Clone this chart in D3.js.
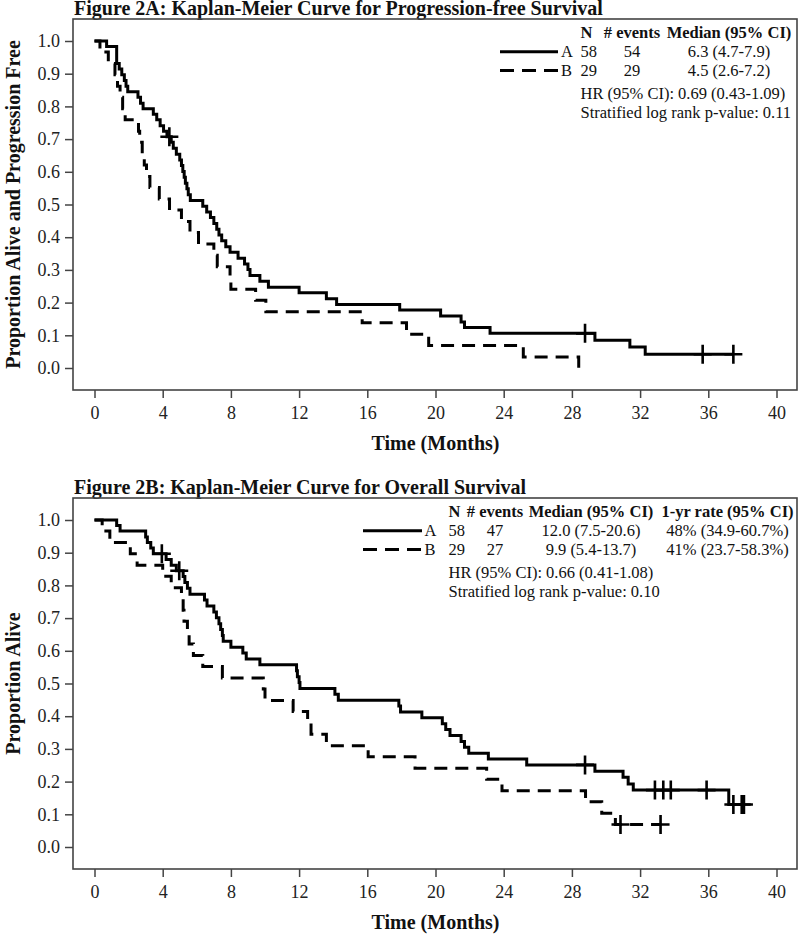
<!DOCTYPE html>
<html><head><meta charset="utf-8">
<script src="https://cdn.jsdelivr.net/npm/d3@7"></script>
<style>body{margin:0;background:#fff}svg{display:block}</style>
</head><body>
<svg id="c" width="800" height="935"></svg>
<script>
// ---------- data ----------
const xTicks = [0,4,8,12,16,20,24,28,32,36,40];
const yTicks = [0,0.1,0.2,0.3,0.4,0.5,0.6,0.7,0.8,0.9,1.0];

// Figure 2A: progression-free survival
const pfsA_time = [0,0.71,1.30,1.45,1.60,1.75,1.85,1.95,2.55,2.70,2.85,3.45,3.65,3.85,4.05,4.25,4.50,4.62,4.80,5.00,5.10,5.18,5.26,5.33,5.42,5.50,5.62,6.35,6.58,6.80,7.00,7.17,7.30,7.46,7.70,7.95,8.42,8.80,9.00,9.12,9.70,10.20,12.00,13.60,14.20,17.90,20.30,21.50,21.70,23.20,29.35,31.40,32.30,37.47];
const pfsA_surv = [1,0.983,0.931,0.914,0.897,0.879,0.862,0.845,0.828,0.810,0.793,0.776,0.759,0.741,0.724,0.707,0.690,0.672,0.654,0.636,0.619,0.601,0.583,0.565,0.548,0.530,0.512,0.495,0.477,0.460,0.442,0.424,0.407,0.389,0.371,0.354,0.336,0.318,0.301,0.283,0.265,0.247,0.230,0.212,0.194,0.177,0.159,0.141,0.124,0.106,0.085,0.064,0.042,0.042];
const pfsA_censorTime = [4.39,28.77,35.67,37.47];
const pfsA_censorSurv = [0.707,0.106,0.042,0.042];

const pfsB_time = [0,0.32,0.81,1.20,1.35,1.50,1.65,1.80,2.58,2.65,2.80,2.92,3.05,3.25,3.80,4.40,5.10,5.60,6.10,7.00,7.20,7.95,8.00,9.45,10.05,15.70,18.30,19.60,25.15,28.40];
const pfsB_surv = [1,0.966,0.931,0.897,0.862,0.828,0.793,0.759,0.724,0.690,0.655,0.621,0.586,0.552,0.517,0.483,0.448,0.414,0.379,0.345,0.310,0.276,0.241,0.207,0.172,0.138,0.103,0.069,0.034,0];
const pfsB_censorTime = [];
const pfsB_censorSurv = [];

// Figure 2B: overall survival
const osA_time = [0,1.30,1.50,3.00,3.10,3.30,3.45,4.20,4.50,4.80,5.20,5.30,5.45,5.60,6.45,6.60,7.00,7.15,7.30,7.40,7.50,7.55,8.00,8.70,8.90,9.70,11.85,11.90,12.00,12.05,14.10,14.30,17.85,17.95,19.20,20.40,20.60,20.85,21.50,21.70,21.95,23.10,25.35,29.35,31.00,31.30,31.60,37.20,38.09];
const osA_surv = [1,0.983,0.966,0.948,0.931,0.914,0.897,0.879,0.862,0.845,0.827,0.809,0.791,0.773,0.755,0.737,0.719,0.701,0.683,0.665,0.647,0.629,0.611,0.593,0.575,0.557,0.539,0.521,0.503,0.485,0.467,0.449,0.431,0.413,0.395,0.377,0.359,0.341,0.323,0.305,0.287,0.269,0.251,0.232,0.213,0.193,0.174,0.130,0.130];
const osA_censorTime = [3.95,4.97,28.77,32.87,33.36,33.80,35.90,37.47,37.96,38.09];
const osA_censorSurv = [0.897,0.845,0.251,0.174,0.174,0.174,0.174,0.130,0.130,0.130];

const osB_time = [0,0.45,0.90,2.10,2.50,4.00,4.50,5.10,5.20,5.25,5.45,5.55,5.80,6.35,7.50,9.90,10.00,11.65,12.50,12.70,13.60,16.05,18.80,23.00,23.90,28.80,29.75,30.55,33.20];
const osB_surv = [1,0.966,0.931,0.897,0.862,0.828,0.793,0.759,0.724,0.690,0.655,0.621,0.586,0.552,0.517,0.483,0.448,0.414,0.379,0.345,0.310,0.276,0.241,0.207,0.172,0.138,0.103,0.069,0.069];
const osB_censorTime = [30.85,33.20];
const osB_censorSurv = [0.069,0.069];

// legend / text content
const groups = ["A","B"];
const groupN = [58,29];
const pfsEvents = [54,29];
const pfsMedian = ["6.3 (4.7-7.9)","4.5 (2.6-7.2)"];
const pfsStats = ["HR (95% CI): 0.69 (0.43-1.09)","Stratified log rank p-value: 0.11"];
const osEvents = [47,27];
const osMedian = ["12.0 (7.5-20.6)","9.9 (5.4-13.7)"];
const osRate = ["48% (34.9-60.7%)","41% (23.7-58.3%)"];
const osStats = ["HR (95% CI): 0.66 (0.41-1.08)","Stratified log rank p-value: 0.10"];

// ---------- drawing ----------
const SERIF = '"Liberation Serif","Times New Roman",Times,serif';
const svg = d3.select("#c");
const zip = (t,s) => t.map((v,i)=>[v,s[i]]);

function panel(o){
  const g = svg.append("g").attr("transform",`translate(0,${o.dy})`);
  const x = d3.scaleLinear().domain([0,40]).range([94.5,776.5]);
  const y = d3.scaleLinear().domain([0,1]).range([368,41]);
  const L=73,T=19,R=797,B=390;

  g.append("text").attr("x",74).attr("y",15)
    .attr("font-family",SERIF).attr("font-weight","bold").attr("font-size",20)
    .attr("fill","#111").text(o.title);

  g.append("rect").attr("x",L).attr("y",T).attr("width",R-L).attr("height",B-T)
    .attr("fill","none").attr("stroke","#444").attr("stroke-width",1.6);

  const ya = g.append("g").attr("transform",`translate(${L},0)`)
    .call(d3.axisLeft(y).tickValues(yTicks).tickSize(8).tickPadding(5).tickFormat(d3.format(".1f")));
  const xa = g.append("g").attr("transform",`translate(0,${B})`)
    .call(d3.axisBottom(x).tickValues(xTicks).tickSize(8).tickPadding(8).tickFormat(d3.format("d")));
  [ya,xa].forEach(a=>{
    a.select(".domain").remove();
    a.attr("font-family",SERIF).attr("font-size",18);
    a.selectAll(".tick line").attr("stroke","#444").attr("stroke-width",1.5);
    a.selectAll(".tick text").attr("fill","#222");
  });

  g.append("text").attr("transform",`translate(19.5,${(T+B)/2}) rotate(-90)`)
    .attr("text-anchor","middle")
    .attr("font-family",SERIF).attr("font-weight","bold").attr("font-size",20)
    .attr("fill","#111").text(o.ytitle);
  g.append("text").attr("x",(x(0)+x(40))/2).attr("y",450).attr("text-anchor","middle")
    .attr("font-family",SERIF).attr("font-weight","bold").attr("font-size",20)
    .attr("fill","#111").text("Time (Months)");

  const line = d3.line().x(d=>x(d[0])).y(d=>y(d[1])).curve(d3.curveStepAfter);
  o.series.forEach(s=>{
    g.append("path").datum(zip(s.t,s.s)).attr("d",line)
      .attr("fill","none").attr("stroke","#000").attr("stroke-width",3)
      .attr("stroke-dasharray",s.dash?"13,8":null);
    g.selectAll(null).data(zip(s.ct,s.cs)).enter().append("path")
      .attr("d",d=>{const cx=x(d[0]),cy=y(d[1]);return `M${cx-9},${cy}H${cx+9}M${cx},${cy-9.5}V${cy+9.5}`;})
      .attr("stroke","#000").attr("stroke-width",2.6).attr("fill","none");
  });

  // legend
  const lg = o.legend;
  const txt = (xx,yy,t,anchor,bold)=>g.append("text").attr("x",xx).attr("y",yy)
    .attr("text-anchor",anchor||"start").attr("font-family",SERIF).attr("font-size",16.5)
    .attr("font-weight",bold?"bold":null).attr("fill","#111").text(t);
  const rowY=[57.3,76], headY=38.3, statY=[99,118];
  txt(lg.nX,headY,"N",null,true);
  lg.cols.forEach(c=>txt(c.cx,headY,c.head,"middle",true));
  groups.forEach((gr,i)=>{
    const ly=rowY[i]-5.5;
    g.append("line").attr("x1",lg.lineX1).attr("x2",lg.lineX2).attr("y1",ly).attr("y2",ly)
      .attr("stroke","#000").attr("stroke-width",3).attr("stroke-dasharray",i?"14,8":null);
    txt(lg.letterX,rowY[i],gr);
    txt(lg.nX,rowY[i],String(groupN[i]));
    lg.cols.forEach(c=>txt(c.cx,rowY[i],String(c.vals[i]),"middle"));
  });
  o.stats.forEach((s,i)=>txt(lg.nX,statY[i],s));
}

panel({dy:0,title:"Figure 2A: Kaplan-Meier Curve for Progression-free Survival",
  ytitle:"Proportion Alive and Progression Free",
  series:[{t:pfsA_time,s:pfsA_surv,ct:pfsA_censorTime,cs:pfsA_censorSurv,dash:false},
          {t:pfsB_time,s:pfsB_surv,ct:pfsB_censorTime,cs:pfsB_censorSurv,dash:true}],
  legend:{lineX1:500,lineX2:558,letterX:561,nX:580.5,
    cols:[{head:"# events",cx:632,vals:pfsEvents},{head:"Median (95% CI)",cx:729,vals:pfsMedian}]},
  stats:pfsStats});

panel({dy:479,title:"Figure 2B: Kaplan-Meier Curve for Overall Survival",
  ytitle:"Proportion Alive",
  series:[{t:osA_time,s:osA_surv,ct:osA_censorTime,cs:osA_censorSurv,dash:false},
          {t:osB_time,s:osB_surv,ct:osB_censorTime,cs:osB_censorSurv,dash:true}],
  legend:{lineX1:363,lineX2:422,letterX:424.5,nX:448.5,
    cols:[{head:"# events",cx:495,vals:osEvents},{head:"Median (95% CI)",cx:591,vals:osMedian},
          {head:"1-yr rate (95% CI)",cx:727.5,vals:osRate}]},
  stats:osStats});
</script>
</body></html>
